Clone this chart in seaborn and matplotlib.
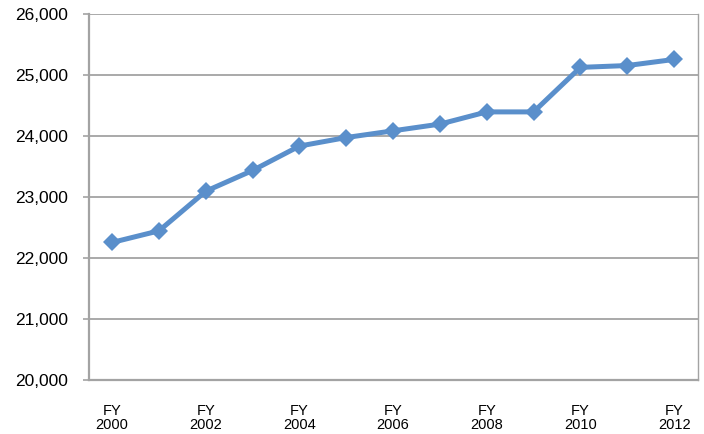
import matplotlib
matplotlib.use("Agg")
import matplotlib.pyplot as plt
import seaborn as sns
import pandas as pd
from matplotlib.ticker import FuncFormatter, FixedLocator

# Annual counts by fiscal year
years = ["FY\n2000", "FY\n2001", "FY\n2002", "FY\n2003", "FY\n2004", "FY\n2005",
         "FY\n2006", "FY\n2007", "FY\n2008", "FY\n2009", "FY\n2010", "FY\n2011", "FY\n2012"]
values = [22260, 22450, 23100, 23440, 23840, 23980,
          24090, 24200, 24400, 24400, 25130, 25160, 25260]
shown_labels = ["FY\n2000", "FY\n2002", "FY\n2004", "FY\n2006", "FY\n2008", "FY\n2010", "FY\n2012"]

sns.set_style("white")
plt.rcParams["font.family"] = ["Liberation Sans", "DejaVu Sans"]

df = pd.DataFrame({"pos": range(len(years)), "value": values})

W, H = 704, 434
fig = plt.figure(figsize=(W / 100, H / 100), dpi=100)
ax = fig.add_axes([88.7 / W, (H - 380.3) / H, (697.5 - 88.7) / W, (380.3 - 14.3) / H])

line_color = "#5A8FCB"
grid_color = "#A3A3A3"

sns.lineplot(data=df, x="pos", y="value", ax=ax, color=line_color,
             linewidth=3.6, marker="D", markersize=9, markeredgewidth=0,
             zorder=3)

ax.set_xlim(-0.5, len(years) - 0.5)
ax.set_ylim(20000, 26000)
ax.set_yticks(range(20000, 26001, 1000))
ax.yaxis.set_major_formatter(FuncFormatter(lambda v, p: f"{int(v):,}"))

# category labels every other year, tick marks at category boundaries
label_pos = [years.index(l) for l in shown_labels]
ax.set_xticks(label_pos)
ax.set_xticklabels(shown_labels, linespacing=0.98)
ax.xaxis.set_minor_locator(FixedLocator([i - 0.5 for i in range(len(years) + 1)]))
ax.tick_params(axis="x", which="major", length=0, pad=17, labelsize=10.5, colors="black")
ax.tick_params(axis="x", which="minor", length=4, width=1.2, color=grid_color, direction="out")
ax.tick_params(axis="y", length=4, width=1.2, color=grid_color, pad=11, labelsize=12.5,
               labelcolor="black", left=True)
ax.set_xlabel("")
ax.set_ylabel("")

for y in range(21000, 26001, 1000):
    ax.axhline(y, color=grid_color, linewidth=1.3, zorder=1)

for side in ["left", "bottom"]:
    ax.spines[side].set_color(grid_color)
    ax.spines[side].set_linewidth(1.6)
ax.spines["top"].set_visible(False)
ax.spines["right"].set_color(grid_color)
ax.spines["right"].set_linewidth(1.0)

fig.savefig("out.png", dpi=100)
